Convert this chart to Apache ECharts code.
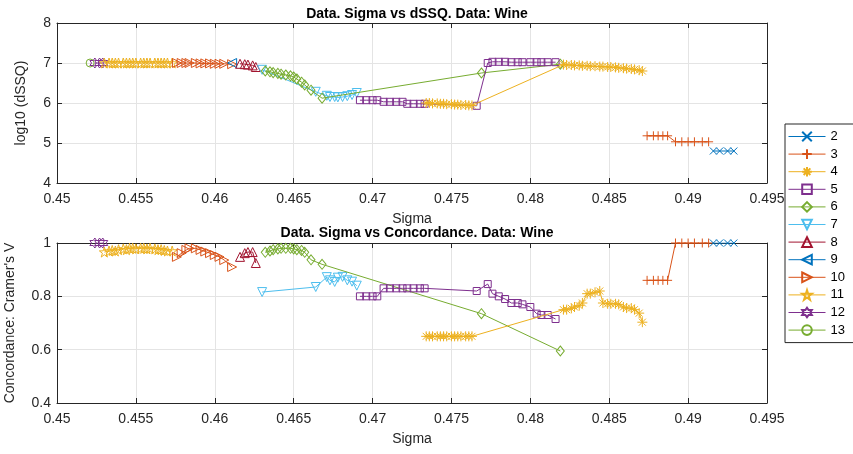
<!DOCTYPE html>
<html>
<head>
<meta charset="utf-8">
<script src="https://cdn.jsdelivr.net/npm/echarts@6/dist/echarts.min.js"></script>
<style>
  html, body { margin: 0; padding: 0; background: #fff; }
  #chart { width: 853px; height: 454px; }
</style>
</head>
<body>
<div id="chart"></div>
<script>
// values: sigma, log10(dSSQ), Cramer's V per cluster count
const sigma2 = [0.4916, 0.4920, 0.4925, 0.4929];
const dssq2 = [4.8, 4.8, 4.8, 4.8];
const conc2 = [1, 1, 1, 1];

const sigma3 = [0.4874, 0.4878, 0.4881, 0.4884, 0.4887, 0.4892, 0.4896, 0.4900, 0.4904, 0.4909, 0.4913];
const dssq3 = [5.18, 5.18, 5.18, 5.18, 5.18, 5.03, 5.03, 5.03, 5.03, 5.03, 5.03];
const conc3 = [0.86, 0.86, 0.86, 0.86, 0.86, 1, 1, 1, 1, 1, 1];

const sigma4 = [0.4734, 0.4736, 0.4738, 0.4741, 0.4743, 0.4745, 0.4747, 0.4750, 0.4752, 0.4754, 0.4756, 0.4759, 0.4761, 0.4763,
    0.4821, 0.4823, 0.4826, 0.4828, 0.4831, 0.4833, 0.4836, 0.4838, 0.4841, 0.4844, 0.4846, 0.4849, 0.4851, 0.4854, 0.4856, 0.4859, 0.4861, 0.4864, 0.4866, 0.4869, 0.4871];
const dssq4 = [6.0, 6.0, 5.99, 5.99, 5.98, 5.98, 5.97, 5.97, 5.96, 5.96, 5.95, 5.95, 5.94, 5.94,
    6.96, 6.95, 6.95, 6.94, 6.94, 6.93, 6.93, 6.92, 6.92, 6.91, 6.91, 6.9, 6.9, 6.89, 6.88, 6.87, 6.86, 6.85, 6.84, 6.82, 6.8];
const conc4 = [0.65, 0.65, 0.65, 0.65, 0.65, 0.65, 0.65, 0.65, 0.65, 0.65, 0.65, 0.65, 0.65, 0.65,
    0.75, 0.75, 0.755, 0.76, 0.765, 0.775, 0.81, 0.81, 0.815, 0.82, 0.775, 0.772, 0.772, 0.772, 0.77, 0.76, 0.756, 0.756, 0.75, 0.737, 0.703];

const sigma5 = [0.4692, 0.4696, 0.4700, 0.4703, 0.4707, 0.4711, 0.4715, 0.4719, 0.4722, 0.4726, 0.4730, 0.4733, 0.4766,
    0.4773, 0.4776, 0.4780, 0.4784, 0.4788, 0.4792, 0.4795, 0.4800, 0.4804, 0.4807, 0.4811, 0.4816];
const dssq5 = [6.07, 6.07, 6.07, 6.07, 6.03, 6.03, 6.03, 6.03, 5.98, 5.98, 5.98, 5.98, 5.93,
    7.0, 7.03, 7.03, 7.03, 7.02, 7.02, 7.02, 7.02, 7.02, 7.02, 7.02, 7.02];
const conc5 = [0.80, 0.80, 0.80, 0.80, 0.83, 0.83, 0.83, 0.83, 0.83, 0.83, 0.83, 0.83, 0.82,
    0.846, 0.81, 0.80, 0.79, 0.775, 0.775, 0.77, 0.76, 0.735, 0.73, 0.73, 0.715];

const sigma6 = [0.4632, 0.4635, 0.4637, 0.4640, 0.4642, 0.4645, 0.4648, 0.4650, 0.4652, 0.4655, 0.4657, 0.4661, 0.4668, 0.4769, 0.4819];
const dssq6 = [6.8, 6.78, 6.76, 6.74, 6.72, 6.7, 6.68, 6.65, 6.6, 6.52, 6.45, 6.32, 6.12, 6.75, 6.97];
const conc6 = [0.965, 0.97, 0.975, 0.978, 0.98, 0.98, 0.98, 0.978, 0.975, 0.972, 0.965, 0.937, 0.92, 0.735, 0.595];

const sigma7 = [0.4630, 0.4664, 0.4671, 0.4673, 0.4676, 0.4678, 0.4681, 0.4684, 0.4687, 0.4690];
const dssq7 = [6.83, 6.28, 6.18, 6.15, 6.15, 6.14, 6.15, 6.17, 6.2, 6.25];
const conc7 = [0.816, 0.835, 0.872, 0.86, 0.854, 0.87, 0.873, 0.86, 0.855, 0.84];

const sigma8 = [0.4616, 0.4619, 0.4621, 0.4624, 0.4626];
const dssq8 = [6.98, 6.97, 6.96, 6.94, 6.9];
const conc8 = [0.948, 0.962, 0.966, 0.966, 0.925];

const sigma9 = [0.4611];
const dssq9 = [7.0];
const conc9 = [];

const sigma10 = [0.4576, 0.4579, 0.4582, 0.4584, 0.4588, 0.4591, 0.4594, 0.4597, 0.4600, 0.4603, 0.4606, 0.4611];
const dssq10 = [7.0, 7.0, 7.0, 7.0, 7.0, 6.99, 6.99, 6.99, 6.98, 6.98, 6.98, 6.97];
const conc10 = [0.948, 0.962, 0.974, 0.98, 0.98, 0.974, 0.968, 0.962, 0.955, 0.948, 0.936, 0.91];

const sigma11 = [0.4530, 0.4533, 0.4535, 0.4537, 0.4539, 0.4542, 0.4544, 0.4546, 0.4548, 0.4550,
    0.4553, 0.4555, 0.4557, 0.4559, 0.4562, 0.4564, 0.4566, 0.4568, 0.4570, 0.4573];
const dssq11 = [7, 7, 7, 7, 7, 7, 7, 7, 7, 7, 7, 7, 7, 7, 7, 7, 7, 7, 7, 7];
const conc11 = [0.966, 0.97, 0.972, 0.97, 0.975, 0.978, 0.975, 0.98, 0.98, 0.978,
    0.98, 0.98, 0.978, 0.98, 0.978, 0.975, 0.975, 0.972, 0.97, 0.97];

const sigma12 = [0.4524, 0.4527, 0.4529];
const dssq12 = [7, 7, 7];
const conc12 = [1, 1, 1];

const sigma13 = [0.4521];
const dssq13 = [7];
const conc13 = [];

const clusterNames = ['2', '3', '4', '5', '6', '7', '8', '9', '10', '11', '12', '13'];
const sigmaAll = [sigma2, sigma3, sigma4, sigma5, sigma6, sigma7, sigma8, sigma9, sigma10, sigma11, sigma12, sigma13];
const dssqAll = [dssq2, dssq3, dssq4, dssq5, dssq6, dssq7, dssq8, dssq9, dssq10, dssq11, dssq12, dssq13];
const concAll = [conc2, conc3, conc4, conc5, conc6, conc7, conc8, conc9, conc10, conc11, conc12, conc13];

document.addEventListener('DOMContentLoaded', () => {
    const chart = echarts.init(document.getElementById('chart'));

    const FONT = 'Liberation Sans, Arial, Helvetica, sans-serif';
    const INK = '#262626';
    const GRIDLINE = '#e4e4e4';

    function starPath(n, inner) {
        const pts = [];
        for (let i = 0; i < 2 * n; i++) {
            const a = -Math.PI / 2 + i * Math.PI / n;
            const r = i % 2 === 0 ? 50 : 50 * inner;
            pts.push((50 + r * Math.cos(a)).toFixed(1) + ',' + (50 + r * Math.sin(a)).toFixed(1));
        }
        return 'path://M' + pts.join('L') + 'Z';
    }

    // matlab default colour order + marker per series
    const styles = [
        { color: '#0072BD', symbol: 'path://M0,0L10,10M0,10L10,0', size: 7 },
        { color: '#D95319', symbol: 'path://M5,0L5,10M0,5L10,5', size: 9 },
        { color: '#EDB120', symbol: 'path://M5,0L5,10M0,5L10,5M1.5,1.5L8.5,8.5M1.5,8.5L8.5,1.5', size: 10 },
        { color: '#7E2F8E', symbol: 'rect', size: 7 },
        { color: '#77AC30', symbol: 'diamond', size: [8, 10] },
        { color: '#4DBEEE', symbol: 'path://M0,0L10,0L5,9Z', size: 9 },
        { color: '#A2142F', symbol: 'path://M5,0L10,9L0,9Z', size: 9 },
        { color: '#0072BD', symbol: 'path://M0,5L9,0L9,10Z', size: 9 },
        { color: '#D95319', symbol: 'path://M0,0L9,5L0,10Z', size: 9 },
        { color: '#EDB120', symbol: starPath(5, 0.382), size: 10 },
        { color: '#7E2F8E', symbol: starPath(6, 0.577), size: 10 },
        { color: '#77AC30', symbol: 'circle', size: 8 }
    ];

    function makeSeries(i, ys, grid) {
        const st = styles[i];
        return {
            name: clusterNames[i],
            type: 'line',
            xAxisIndex: grid * 2,
            yAxisIndex: grid * 2,
            data: sigmaAll[i].map((x, k) => [x, ys[k]]).filter(p => p[1] !== undefined),
            symbol: st.symbol,
            symbolSize: st.size,
            showAllSymbol: true,
            lineStyle: { color: st.color, width: 1 },
            itemStyle: { color: 'rgba(255,255,255,0)', borderColor: st.color, borderWidth: 1 },
            emphasis: { disabled: true },
            z: 10 - i * 0.1
        };
    }

    const series = [];
    clusterNames.forEach((n, i) => {
        series.push(makeSeries(i, dssqAll[i], 0));
        if (concAll[i].length) series.push(makeSeries(i, concAll[i], 1));
    });

    function xMain(grid) {
        return {
            type: 'value', gridIndex: grid, min: 0.45, max: 0.495, interval: 0.005,
            name: 'Sigma', nameLocation: 'middle', nameGap: 29,
            nameTextStyle: { fontFamily: FONT, fontSize: 14, color: INK },
            axisLine: { show: true, onZero: false, lineStyle: { color: INK, width: 1 } },
            axisTick: { show: true, inside: true, length: 5, lineStyle: { color: INK } },
            axisLabel: { fontFamily: FONT, fontSize: 14, color: INK, margin: 9 },
            splitLine: { show: true, lineStyle: { color: GRIDLINE, width: 1 } }
        };
    }
    function xMirror(grid) {
        return {
            type: 'value', gridIndex: grid, position: 'top', min: 0.45, max: 0.495, interval: 0.005,
            axisLine: { show: true, onZero: false, lineStyle: { color: INK, width: 1 } },
            axisTick: { show: true, inside: true, length: 5, lineStyle: { color: INK } },
            axisLabel: { show: false },
            splitLine: { show: false }
        };
    }
    function yMain(grid, min, max, interval, name, gap) {
        return {
            type: 'value', gridIndex: grid, min: min, max: max, interval: interval,
            name: name, nameLocation: 'middle', nameGap: gap,
            nameTextStyle: { fontFamily: FONT, fontSize: 14, color: INK },
            axisLine: { show: true, onZero: false, lineStyle: { color: INK, width: 1 } },
            axisTick: { show: true, inside: true, length: 5, lineStyle: { color: INK } },
            axisLabel: { fontFamily: FONT, fontSize: 14, color: INK, margin: 6 },
            splitLine: { show: true, lineStyle: { color: GRIDLINE, width: 1 } }
        };
    }
    function yMirror(grid, min, max, interval) {
        return {
            type: 'value', gridIndex: grid, position: 'right', min: min, max: max, interval: interval,
            axisLine: { show: true, onZero: false, lineStyle: { color: INK, width: 1 } },
            axisTick: { show: true, inside: true, length: 5, lineStyle: { color: INK } },
            axisLabel: { show: false },
            splitLine: { show: false }
        };
    }

    const option = {
        animation: false,
        backgroundColor: '#fff',
        title: [
            { text: 'Data. Sigma vs dSSQ. Data: Wine', left: 412, top: 2, textAlign: 'center',
              textStyle: { fontFamily: FONT, fontSize: 14, fontWeight: 'bold', color: '#000' } },
            { text: 'Data. Sigma vs Concordance. Data: Wine', left: 412, top: 221, textAlign: 'center',
              textStyle: { fontFamily: FONT, fontSize: 14, fontWeight: 'bold', color: '#000' } }
        ],
        grid: [
            { left: 57, right: 86, top: 23, height: 160, containLabel: false, outerBoundsMode: 'none' },
            { left: 57, right: 86, top: 243, height: 160, containLabel: false, outerBoundsMode: 'none' }
        ],
        xAxis: [xMain(0), xMirror(0), xMain(1), xMirror(1)],
        yAxis: [
            yMain(0, 4, 8, 1, 'log10 (dSSQ)', 29),
            yMirror(0, 4, 8, 1),
            yMain(1, 0.4, 1, 0.2, "Concordance: Cramer's V", 40),
            yMirror(1, 0.4, 1, 0.2)
        ],
        legend: {
            data: clusterNames,
            orient: 'vertical',
            left: 785, top: 124,
            itemWidth: 37, itemHeight: 12, itemGap: 4.6,
            padding: [6, 10, 6, 3],
            backgroundColor: '#fff',
            borderColor: INK, borderWidth: 1,
            lineStyle: { width: 1 },
            textStyle: { fontFamily: FONT, fontSize: 13, color: '#000', lineHeight: 13 }
        },
        series: series
    };

    chart.setOption(option);

    window.addEventListener('resize', () => {
        chart.resize();
    });
});
</script>
</body>
</html>
